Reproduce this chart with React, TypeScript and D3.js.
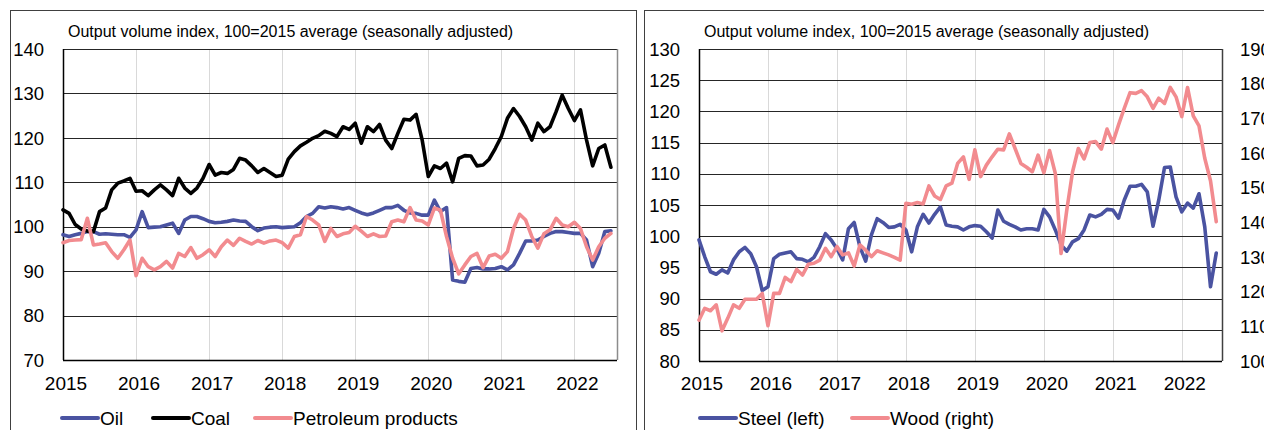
import * as d3 from 'd3';

const colors = {
  blue: '#4A53A1',
  black: '#000000',
  pink: '#F28B8F',
};

// tick labels
const yearLabels = ['2015', '2016', '2017', '2018', '2019', '2020', '2021', '2022'];
const energyTicks = [70, 80, 90, 100, 110, 120, 130, 140];
const steelTicks = [80, 85, 90, 95, 100, 105, 110, 115, 120, 125, 130];
const woodTicks = [100, 110, 120, 130, 140, 150, 160, 170, 180, 190];

// monthly values, Jan 2015 - Jul 2022
const oil = [
  98.2, 97.8, 98.2, 98.5, 98.9, 98.9, 98.3, 98.4, 98.3, 98.2, 98.2, 97.6,
  99.3, 103.4, 99.8, 99.9, 100, 100.4, 100.8, 98.5, 101.5, 102.3, 102.3, 101.8,
  101.2, 100.9, 101, 101.2, 101.5, 101.3, 101.2, 100, 99.1, 99.7, 99.9, 100,
  99.8, 99.9, 100, 100.9, 102.3, 103, 104.5, 104.2, 104.5, 104.3, 104, 104.3,
  103.7, 103.1, 102.7, 103.1, 103.7, 104.3, 104.3, 104.8, 103.7, 103.1, 103, 102.6,
  102.6, 106, 103.4, 104.3, 88, 87.7, 87.5, 90.6, 90.8, 90.5, 90.5, 90.6,
  91, 90.3, 91.4, 94, 96.8, 96.8, 97, 97.8, 98.5, 98.9, 98.9, 98.7,
  98.5, 98.5, 97, 91, 94, 98.9, 99.1,
];

const coal = [
  103.8, 103, 100.5, 99.5, 99, 98.9, 103.4, 104.2, 108.3, 109.8, 110.3, 110.9,
  108, 108.1, 107, 108.3, 109.4, 108.3, 107, 110.9, 108.7, 107.5, 108.7, 110.9,
  114, 111.6, 112.2, 112, 112.9, 115.4, 115, 113.7, 112.2, 113.1, 112.2, 111.3,
  111.6, 115.2, 116.9, 118.2, 119, 119.9, 120.5, 121.5, 121, 120.3, 122.5, 121.9,
  123.3, 118.8, 122.5, 121.4, 123, 119.5, 117.6, 121, 124.2, 124, 125.3, 119.5,
  111.3, 113.7, 113.1, 114.3, 110.1, 115.4, 116, 115.9, 113.7, 113.9, 115.2, 117.6,
  120.3, 124.4, 126.6, 124.8, 122.5, 119.5, 123.3, 121.4, 122.5, 125.9, 129.6, 126.6,
  123.9, 126.3, 119.5, 113.7, 117.6, 118.4, 113.4,
];

const petroleum = [
  96.4, 96.9, 97, 97.1, 101.9, 95.9, 96.1, 96.4, 94.4, 92.9, 94.8, 97,
  89, 92.9, 91, 90.3, 91, 92.2, 90.7, 94, 93.3, 95.3, 92.9, 93.7,
  94.8, 93.3, 95.5, 97, 95.8, 97.4, 96.7, 96.1, 96.9, 96.3, 96.8, 97,
  96.4, 95.2, 97.8, 98.2, 102.3, 101.5, 100.4, 96.7, 99.6, 97.8, 98.4, 98.7,
  100.1, 99, 97.8, 98.4, 97.8, 97.9, 101.1, 101.5, 101.1, 104.3, 101.5, 101.3,
  100.4, 104.2, 103.7, 97.8, 92.9, 89.4, 91.4, 93.3, 94, 90.8, 93.4, 93.8,
  92.9, 94.4, 99.6, 102.8, 101.5, 97.8, 95.2, 98.4, 99.3, 101.9, 100.4, 100,
  101, 99.6, 95.5, 92.5, 95.5, 97.4, 98.5,
];

const steel = [
  99.4, 96.7, 94.3, 93.9, 94.6, 94.1, 96.2, 97.5, 98.2, 97.2, 95.1, 91.3,
  91.9, 96.4, 97.1, 97.3, 97.5, 96.4, 96.3, 95.9, 96.6, 98.3, 100.4, 99.4,
  98, 96.2, 101.2, 102.2, 98.3, 96, 100.2, 102.8, 102.2, 101.4, 101.5, 101.9,
  101, 97.5, 101.5, 103.5, 102.1, 103.5, 104.7, 101.8, 101.6, 101.5, 101, 101.5,
  101.7, 101.6, 100.7, 99.7, 104.2, 102.4, 101.9, 101.5, 101, 101.2, 101.2, 101,
  104.3, 103.1, 101, 98.6, 97.6, 99.1, 99.6, 101, 103.4, 103.1, 103.5, 104.3,
  104.2, 102.9, 105.8, 108, 108, 108.3, 107.1, 101.6, 105.8, 111, 111.1, 106.3,
  103.9, 105.3, 104.5, 106.8, 101.5, 91.9, 97.3,
];

const wood = [
  111.8, 115.2, 114.5, 116.2, 108.7, 112.3, 116.2, 115.2, 117.8, 117.8, 117.8, 119.5,
  110.2, 119.5, 119.5, 124.1, 122.9, 126.4, 124.8, 127.9, 128.2, 129.1, 132.5, 130.1,
  133, 130.6, 131.2, 127.4, 133.5, 132, 130.1, 131.8, 131.2, 130.6, 129.9, 129.1,
  145.5, 145.2, 145.7, 145.3, 150.5, 147.6, 146.6, 150.5, 151.3, 157, 158.9, 152.4,
  160.9, 153.2, 156.5, 158.9, 161.1, 160.9, 165.5, 161.3, 157, 155.9, 154.6, 159.4,
  154.3, 160.7, 154.1, 131, 143.6, 154.6, 161.3, 158.3, 163, 163.3, 161.1, 166.9,
  163, 168.1, 172.9, 177.4, 177.2, 178, 176.2, 172.9, 175.8, 174.3, 178.9, 176.2,
  170.5, 178.9, 170.7, 167.8, 158.5, 152, 140.2,
];

const subtitle = 'Output volume index, 100=2015 average (seasonally adjusted)';
const font = 'Arial, "Liberation Sans", sans-serif';
const monthSpan = 91;

type Series = { name: string; values: number[]; color: string; axis?: 'left' | 'right' };

type PanelProps = {
  frameX: number;
  frameW: number;
  left: number;
  right: number;
  top: number;
  bottom: number;
  yDomain: [number, number];
  yTicks: number[];
  y2Domain?: [number, number];
  y2Ticks?: number[];
  series: Series[];
  legend: { label: string; color: string; x: number }[];
  rightBorder: string;
};

const Panel = (p: PanelProps) => {
  const x = d3.scaleLinear().domain([0, monthSpan]).range([p.left, p.right]);
  const y = d3.scaleLinear().domain(p.yDomain).range([p.bottom, p.top]);
  const y2 = p.y2Domain
    ? d3.scaleLinear().domain(p.y2Domain).range([p.bottom, p.top])
    : null;

  const makeLine = (scale: d3.ScaleLinear<number, number>) =>
    d3
      .line<number>()
      .x((_, i) => x(i))
      .y((d) => scale(d));

  return (
    <g>
      <rect
        x={p.frameX + 0.5}
        y={10.5}
        width={p.frameW}
        height={460}
        fill="white"
        stroke="#404040"
      />
      <text x={p.left + 5} y={37} fontSize={16} fontFamily={font} fill="#000">
        {subtitle}
      </text>

      {/* vertical year gridlines */}
      {yearLabels.map((_, k) => (
        <line
          key={'v' + k}
          x1={Math.round(x(k * 12)) + 0.5}
          x2={Math.round(x(k * 12)) + 0.5}
          y1={p.top}
          y2={p.bottom}
          stroke="#d9d9d9"
        />
      ))}

      {/* horizontal gridlines */}
      {p.yTicks.map((t) => (
        <line
          key={'h' + t}
          x1={p.left}
          x2={p.right}
          y1={Math.round(y(t)) + 0.5}
          y2={Math.round(y(t)) + 0.5}
          stroke="#262626"
        />
      ))}

      <line
        x1={Math.round(p.right) + 0.5}
        x2={Math.round(p.right) + 0.5}
        y1={p.top}
        y2={p.bottom}
        stroke={p.rightBorder}
        strokeWidth={1.5}
      />
      <line
        x1={Math.round(p.left) + 0.5}
        x2={Math.round(p.left) + 0.5}
        y1={p.top}
        y2={p.bottom}
        stroke="#000"
        strokeWidth={1.5}
      />
      <line
        x1={p.left}
        x2={p.right}
        y1={Math.round(p.bottom) + 0.5}
        y2={Math.round(p.bottom) + 0.5}
        stroke="#000"
        strokeWidth={1.5}
      />

      {p.series.map((s) => (
        <path
          key={s.name}
          d={makeLine(s.axis === 'right' && y2 ? y2 : y)(s.values) ?? ''}
          fill="none"
          stroke={s.color}
          strokeWidth={3.6}
          strokeLinejoin="round"
          strokeLinecap="round"
        />
      ))}

      {p.yTicks.map((t) => (
        <text
          key={'yl' + t}
          x={p.left - 19}
          y={y(t)}
          dy="0.36em"
          textAnchor="end"
          fontSize={18.5}
          fontFamily={font}
        >
          {t}
        </text>
      ))}

      {y2 &&
        p.y2Ticks?.map((t) => (
          <text
            key={'yr' + t}
            x={p.right + 18}
            y={y2(t)}
            dy="0.36em"
            textAnchor="start"
            fontSize={18.5}
            fontFamily={font}
          >
            {t}
          </text>
        ))}

      {yearLabels.map((label, k) => (
        <text
          key={'xl' + label}
          x={x(k * 12) + 3}
          y={383}
          dy="0.36em"
          textAnchor="middle"
          fontSize={19}
          fontFamily={font}
        >
          {label}
        </text>
      ))}

      {p.legend.map((l) => (
        <g key={l.label}>
          <line
            x1={l.x}
            x2={l.x + 36}
            y1={418}
            y2={418}
            stroke={l.color}
            strokeWidth={4}
            strokeLinecap="round"
          />
          <text x={l.x + 38} y={418} dy="0.36em" fontSize={19} fontFamily={font}>
            {l.label}
          </text>
        </g>
      ))}
    </g>
  );
};

export default function App() {
  return (
    <svg
      width={1264}
      height={430}
      style={{ position: 'absolute', left: 0, top: 0, background: 'white' }}
    >
      <rect width={1264} height={430} fill="white" />
      <Panel
        frameX={10}
        frameW={626}
        left={63}
        right={617}
        top={49}
        bottom={360}
        yDomain={[70, 140]}
        yTicks={energyTicks}
        rightBorder="#8c8c8c"
        series={[
          { name: 'Oil', values: oil, color: colors.blue },
          { name: 'Coal', values: coal, color: colors.black },
          { name: 'Petroleum products', values: petroleum, color: colors.pink },
        ]}
        legend={[
          { label: 'Oil', color: colors.blue, x: 62 },
          { label: 'Coal', color: colors.black, x: 153 },
          { label: 'Petroleum products', color: colors.pink, x: 255 },
        ]}
      />
      <Panel
        frameX={644}
        frameW={700}
        left={699}
        right={1222}
        top={49}
        bottom={361}
        yDomain={[80, 130]}
        yTicks={steelTicks}
        y2Domain={[100, 190]}
        y2Ticks={woodTicks}
        rightBorder="#404040"
        series={[
          { name: 'Steel', values: steel, color: colors.blue },
          { name: 'Wood', values: wood, color: colors.pink, axis: 'right' },
        ]}
        legend={[
          { label: 'Steel (left)', color: colors.blue, x: 700 },
          { label: 'Wood (right)', color: colors.pink, x: 852 },
        ]}
      />
    </svg>
  );
}
